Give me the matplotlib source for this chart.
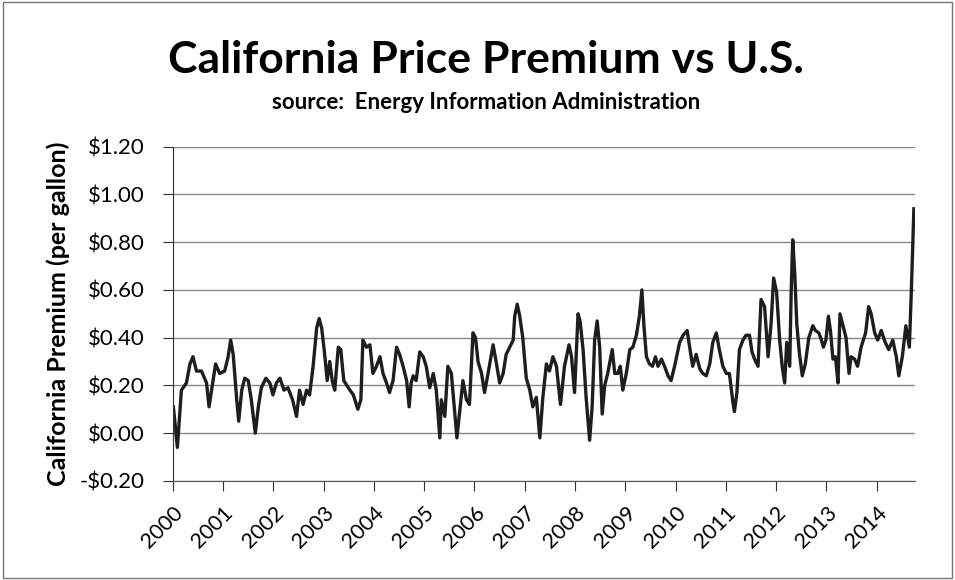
import numpy as np
import matplotlib.pyplot as plt
from matplotlib.patches import Rectangle

# decimal year positions (as drawn on the chart) and premium in $/gallon
years = [2000.01, 2000.09, 2000.17, 2000.27, 2000.34, 2000.40, 2000.47, 2000.57, 2000.67, 2000.72,
         2000.77, 2000.85, 2000.93, 2001.03, 2001.10, 2001.15, 2001.20, 2001.27, 2001.31, 2001.37,
         2001.43, 2001.50, 2001.56, 2001.64, 2001.70, 2001.76, 2001.85, 2001.93, 2001.99, 2002.06,
         2002.13, 2002.21, 2002.29, 2002.38, 2002.46, 2002.52, 2002.59, 2002.66, 2002.72, 2002.79,
         2002.86, 2002.91, 2002.96, 2003.01, 2003.07, 2003.12, 2003.17, 2003.22, 2003.29, 2003.34,
         2003.40, 2003.49, 2003.59, 2003.68, 2003.74, 2003.78, 2003.85,
         2003.92, 2003.98, 2004.05, 2004.12, 2004.18, 2004.25, 2004.31, 2004.38, 2004.45, 2004.51,
         2004.58, 2004.65, 2004.70, 2004.74, 2004.78, 2004.84, 2004.91, 2004.98, 2005.04, 2005.11,
         2005.18, 2005.24, 2005.31, 2005.34, 2005.41, 2005.47, 2005.54, 2005.61, 2005.65, 2005.71,
         2005.77, 2005.84, 2005.90, 2005.97, 2006.02, 2006.07, 2006.14, 2006.20, 2006.27, 2006.37,
         2006.43, 2006.50, 2006.57, 2006.63, 2006.70, 2006.77, 2006.80, 2006.85, 2006.90, 2006.96,
         2007.03, 2007.10, 2007.16, 2007.23, 2007.30, 2007.36, 2007.43, 2007.49, 2007.56, 2007.63,
         2007.71, 2007.79, 2007.88, 2007.93, 2007.99, 2008.06, 2008.10, 2008.16, 2008.22, 2008.29,
         2008.34, 2008.39, 2008.44, 2008.49,
         2008.54, 2008.59, 2008.65, 2008.74, 2008.79, 2008.85, 2008.90, 2008.95, 2009.02, 2009.09,
         2009.15, 2009.22, 2009.28, 2009.33, 2009.37, 2009.42, 2009.48, 2009.54, 2009.60, 2009.65,
         2009.72, 2009.78, 2009.85, 2009.91, 2009.98, 2010.08, 2010.15, 2010.23, 2010.28, 2010.34,
         2010.41, 2010.48, 2010.54, 2010.61, 2010.68, 2010.74, 2010.81, 2010.87, 2010.94, 2011.01,
         2011.07, 2011.14, 2011.17, 2011.22, 2011.27, 2011.34, 2011.40, 2011.47, 2011.52, 2011.57,
         2011.64, 2011.70, 2011.77, 2011.84, 2011.90, 2011.95, 2012.01, 2012.07, 2012.12, 2012.17,
         2012.21, 2012.27, 2012.30, 2012.33, 2012.37, 2012.41, 2012.46,
         2012.52, 2012.58, 2012.65, 2012.73, 2012.78, 2012.85, 2012.90, 2012.94, 2012.99, 2013.04,
         2013.08, 2013.13, 2013.18, 2013.23, 2013.27, 2013.33, 2013.39, 2013.45, 2013.49, 2013.56,
         2013.62, 2013.69, 2013.78, 2013.84, 2013.89, 2013.96, 2014.02, 2014.09, 2014.17, 2014.24,
         2014.32, 2014.39, 2014.44, 2014.51, 2014.58, 2014.62, 2014.65, 2014.69, 2014.72, 2014.74]

premium = [0.11, -0.06, 0.18, 0.21, 0.29, 0.32, 0.26, 0.26, 0.21, 0.11,
           0.18, 0.29, 0.25, 0.26, 0.32, 0.39, 0.33, 0.14, 0.05, 0.18,
           0.23, 0.22, 0.14, 0.00, 0.11, 0.19, 0.23, 0.21, 0.16, 0.21,
           0.23, 0.18, 0.19, 0.14, 0.07, 0.18, 0.12, 0.18, 0.16, 0.28,
           0.44, 0.48, 0.44, 0.35, 0.22, 0.30, 0.22, 0.18, 0.36, 0.35,
           0.22, 0.19, 0.16, 0.10, 0.14, 0.39, 0.36,
           0.37, 0.25, 0.28, 0.32, 0.25, 0.21, 0.17, 0.22, 0.36, 0.33,
           0.28, 0.22, 0.11, 0.21, 0.24, 0.22, 0.34, 0.32, 0.28, 0.19,
           0.25, 0.18, -0.02, 0.14, 0.07, 0.28, 0.25, 0.08, -0.02, 0.10,
           0.22, 0.14, 0.12, 0.42, 0.40, 0.30, 0.25, 0.17, 0.25, 0.37,
           0.30, 0.21, 0.25, 0.33, 0.36, 0.39, 0.49, 0.54, 0.49, 0.40,
           0.23, 0.18, 0.11, 0.15, -0.02, 0.15, 0.29, 0.26, 0.32, 0.28,
           0.12, 0.28, 0.37, 0.32, 0.17, 0.50, 0.47, 0.35, 0.15, -0.03,
           0.11, 0.39, 0.47, 0.36,
           0.08, 0.20, 0.25, 0.35, 0.25, 0.25, 0.28, 0.18, 0.25, 0.35,
           0.36, 0.41, 0.49, 0.60, 0.45, 0.32, 0.29, 0.28, 0.32, 0.28,
           0.31, 0.28, 0.24, 0.22, 0.28, 0.38, 0.41, 0.43, 0.36, 0.28,
           0.33, 0.27, 0.25, 0.24, 0.29, 0.38, 0.42, 0.35, 0.28, 0.25,
           0.25, 0.13, 0.09, 0.17, 0.35, 0.39, 0.41, 0.41, 0.34, 0.31,
           0.28, 0.56, 0.53, 0.32, 0.46, 0.65, 0.59, 0.39, 0.28, 0.21,
           0.38, 0.28, 0.60, 0.81, 0.67, 0.46, 0.34,
           0.24, 0.29, 0.40, 0.45, 0.43, 0.42, 0.39, 0.36, 0.39, 0.49,
           0.43, 0.31, 0.32, 0.21, 0.50, 0.45, 0.40, 0.25, 0.32, 0.31,
           0.28, 0.36, 0.42, 0.53, 0.50, 0.42, 0.39, 0.43, 0.38, 0.35,
           0.39, 0.32, 0.24, 0.32, 0.45, 0.40, 0.36, 0.60, 0.81, 0.94]

year_labels = [str(y) for y in range(2000, 2015)]
y_ticks = [-0.2, 0.0, 0.2, 0.4, 0.6, 0.8, 1.0, 1.2]

plt.rcParams['font.family'] = ['Lato', 'DejaVu Sans']

fig = plt.figure(figsize=(9.55, 5.8), dpi=100)
ax = fig.add_axes([0.181, 0.171, 0.777, 0.576])

# chart border like the Excel chart frame
fig.patches.append(Rectangle((0.003, 0.003), 0.994, 0.994, transform=fig.transFigure,
                             fill=False, edgecolor='#777777', linewidth=1))

ax.plot(years, premium, color='#1e1e1e', linewidth=2.4)

ax.set_xlim(2000, 2014.76)
ax.set_ylim(-0.2, 1.2)
ax.set_yticks(y_ticks)
ax.set_yticklabels([('-$%.2f' % abs(v)) if v < 0 else ('$%.2f' % v) for v in y_ticks], fontsize=16)
ax.set_xticks(range(2000, 2015))
ax.set_xticklabels(year_labels, rotation=45, ha='right', va='top', rotation_mode='anchor', fontsize=15.5)
ax.tick_params(axis='both', direction='out', length=7, color='#333333')
ax.tick_params(axis='y', pad=13)
ax.tick_params(axis='x', pad=9)

ax.grid(axis='y', color='#888888', linewidth=1)
ax.set_axisbelow(True)
for s in ['top', 'right']:
    ax.spines[s].set_visible(False)
ax.spines['left'].set_color('#333333')
ax.spines['bottom'].set_color('#555555')

ax.set_ylabel("California Premium (per gallon)", fontsize=18, fontweight='bold', va='center')
ax.yaxis.set_label_coords(-0.155, 0.5)

fig.text(0.509, 0.874, "California Price Premium vs U.S.", ha='center', va='baseline',
         fontsize=32, fontweight='bold')
fig.text(0.509, 0.812, "source:  Energy Information Administration", ha='center', va='baseline',
         fontsize=16, fontweight='bold')

plt.savefig("out.png", dpi=100)
